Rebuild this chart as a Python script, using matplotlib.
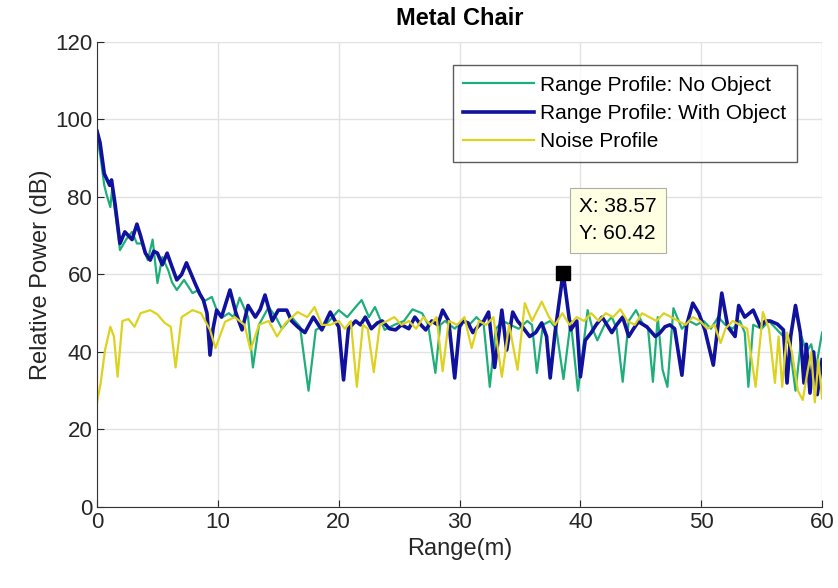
import matplotlib
matplotlib.use("Agg")
import matplotlib.pyplot as plt

plt.rcParams['font.family'] = ['Liberation Sans', 'DejaVu Sans']

# Range profile with the metal chair in place
with_x = [0, 0.25, 0.6, 0.9, 1.05, 1.2, 1.5, 1.9, 2.3, 2.6,
          2.9, 3.3, 3.6, 4.0, 4.4, 4.7, 5.0, 5.4, 5.8, 6.2,
          6.6, 7.0, 7.4, 7.8, 8.1, 8.5, 8.8, 9.1, 9.35, 9.6,
          9.9, 10.3, 10.6, 11.0, 11.5, 12.0, 12.5, 13.1, 13.5, 13.9,
          14.5, 15.0, 15.7, 16.1, 16.6, 17.2, 17.9, 18.6, 19.3, 19.7,
          20.0, 20.4, 20.8, 21.4, 21.8, 22.2, 22.7, 23.2, 23.6, 24.2,
          24.7, 25.2, 25.8, 26.3, 26.8, 27.2, 27.7, 28.2, 28.6, 29.1,
          29.6, 30.0, 30.3, 30.7, 31.1, 31.5, 32.0, 32.4, 32.9, 33.5,
          33.9, 34.4, 34.8, 35.2, 35.8, 36.3, 36.8, 37.2, 37.5, 37.9,
          38.57, 39.2, 39.7, 40.0, 40.4, 40.9, 41.3, 41.8, 42.2, 42.6,
          43.0, 43.5, 44.0, 44.4, 44.8, 45.5, 46.2, 46.6, 47.0, 47.4,
          47.8, 48.4, 48.8, 49.3, 49.8, 50.3, 51.0, 51.7, 52.2, 52.8,
          53.1, 53.6, 54.3, 54.9, 55.3, 55.7, 56.3, 56.8, 57.1, 57.4,
          57.8, 58.2, 58.5, 58.7, 59.0, 59.3, 59.6, 60.0]
with_db = [97, 94, 86, 84, 83, 84.4, 78, 68, 71, 70,
           69, 73, 70, 65.5, 63.7, 66, 65.5, 62.5, 65.5, 62,
           58.6, 60, 63, 60, 57.8, 55, 53.4, 50, 39.2, 46,
           50.8, 49, 52, 56, 50, 45.7, 52, 49, 51, 54.7,
           48, 50.8, 50.8, 48, 46.5, 45, 49, 45.7, 50.3, 48,
           46.5, 32.8, 46, 48, 47, 49, 46, 47.5, 48, 46,
           45.7, 47, 46, 49, 47, 45.7, 48, 47, 50.8, 48,
           33.3, 46.5, 48, 47.5, 45, 46.5, 48, 50.3, 36, 50.8,
           40.5, 50.3, 48, 46.5, 44, 45, 47.5, 44, 33.3, 45,
           60.42, 45.7, 48, 33.6, 43, 45, 47, 49, 47, 45,
           47, 49, 44, 46, 47.8, 46.5, 44, 45, 46.5, 47,
           46, 34, 47, 52.6, 50, 45.7, 36.6, 55.2, 46.5, 44,
           52, 49, 50.8, 46.5, 48, 48, 47.2, 45.7, 32, 44,
           52, 45, 32, 42, 29.4, 40, 29, 38]

# Range profile of the empty scene
none_x = [0, 0.3, 0.6, 0.8, 1.1, 1.25, 1.5, 1.9, 2.4, 2.9,
          3.3, 3.7, 4.2, 4.6, 5.0, 5.4, 5.9, 6.2, 6.6, 7.2,
          7.9, 8.4, 8.8, 9.5, 10.0, 10.4, 10.9, 11.3, 11.8, 12.5,
          12.9, 13.4, 14.2, 14.8, 15.3, 16.1, 16.8, 17.5, 18.1, 18.9,
          19.5, 20.0, 20.7, 21.4, 21.9, 22.5, 23.0, 23.8, 24.6, 25.4,
          26.1, 26.9, 27.4, 28.0, 28.4, 28.8, 29.6, 30.2, 30.8, 31.4,
          32.0, 32.5, 33.0, 33.6, 34.2, 34.9, 35.6, 36.0, 36.4, 36.9,
          37.5, 38.0, 38.6, 39.2, 39.8, 40.6, 41.0, 41.4, 42.0, 42.6,
          43.0, 43.5, 44.0, 44.6, 45.2, 45.6, 46.0, 46.4, 46.8, 47.2,
          47.7, 48.4, 49.0, 49.6, 50.2, 50.8, 51.4, 52.0, 52.6, 53.2,
          53.6, 53.9, 54.3, 55.0, 55.6, 56.2, 56.8, 57.3, 57.8, 58.3,
          58.7, 59.1, 59.5, 60.0]
none_db = [96, 90, 83, 80.5, 77.4, 82, 76, 66.3, 69, 71,
           68, 68, 63.7, 69, 57.8, 64.5, 61, 58, 56, 58.6,
           55.2, 56, 53, 54.2, 50, 49, 50, 49, 54, 49,
           36, 47, 51.6, 49, 46, 49, 46.5, 30, 45.7, 47,
           49, 50.8, 49, 51.6, 53.4, 49, 51.6, 45.7, 47, 48,
           51, 50, 47, 34.6, 47, 48, 46, 48, 47, 49,
           47, 31, 46, 48, 47, 46, 48, 47, 34.6, 47,
           48, 46, 33, 48, 30, 50.8, 46, 43, 47, 49,
           46, 32.3, 48, 50.8, 47, 46, 32.3, 49, 35.4, 31,
           51.3, 46, 48, 47, 48, 46, 49, 47, 46, 48,
           45, 31, 47, 46, 48, 46, 44, 42, 30, 44,
           40, 42, 36, 45]

# Noise floor
noise_x = [0, 0.3, 0.66, 1.1, 1.4, 1.7, 2.1, 2.6, 3.1, 3.6,
           4.4, 5.0, 5.6, 6.1, 6.5, 7.0, 7.9, 8.6, 9.35, 9.8,
           10.6, 11.4, 12.2, 12.7, 13.4, 14.2, 14.9, 15.6, 16.6, 17.4,
           18.0, 18.6, 19.3, 20.0, 20.5, 21.0, 21.5, 22.0, 22.4, 22.9,
           23.4, 24.0, 24.6, 25.2, 25.8, 26.4, 27.0, 27.6, 28.1, 28.6,
           29.1, 29.8, 30.4, 31.0, 31.6, 32.2, 32.8, 33.5, 34.1, 34.8,
           35.4, 36.0, 36.8, 37.4, 37.9, 38.5, 39.1, 39.7, 40.3, 40.9,
           41.5, 42.1, 42.7, 43.3, 43.9, 44.5, 45.1, 45.7, 46.3, 46.9,
           47.5, 48.1, 48.7, 49.3, 49.9, 50.5, 51.1, 51.6, 52.0, 52.6,
           53.2, 53.8, 54.5, 55.1, 55.6, 56.1, 56.4, 56.7, 57.1, 57.5,
           58.0, 58.4, 58.8, 59.1, 59.4, 59.7, 60.0]
noise_db = [27, 32, 40.5, 46.5, 44, 33.6, 48, 48.5, 46.5, 50,
            50.8, 49.7, 47.5, 46.5, 36, 49, 50.8, 50, 45.7, 41,
            47.8, 49, 47, 40.5, 47, 48, 44, 47.5, 50.3, 49,
            51.6, 47, 47, 48, 46, 48, 31, 47, 46, 34.8,
            47, 48, 49, 47, 48, 46, 49, 47, 49, 35,
            48, 47, 49, 41, 48, 47, 49, 33.6, 47, 35.4,
            52.6, 48, 53, 49, 47, 50, 47, 49, 48, 50,
            48, 50, 49, 51, 48, 47, 50, 49, 48, 50,
            49, 48, 47, 49, 48, 46, 47, 42.3, 46, 48,
            47, 46, 31, 50.3, 46, 32, 44, 31, 45, 40,
            30, 27.6, 35, 40, 27, 38, 28]

tip_x, tip_y = 38.57, 60.42

fig = plt.figure(figsize=(8.38, 5.88), dpi=100)
ax = fig.add_axes([0.1158, 0.1378, 0.8652, 0.7908])

ax.plot(none_x, none_db, color='#1fae7a', lw=1.6, label='Range Profile: No Object')
ax.plot(with_x, with_db, color='#10129e', lw=2.6, label='Range Profile: With Object')
ax.plot(noise_x, noise_db, color='#ddd21e', lw=1.6, label='Noise Profile')

# data tip
ax.plot([tip_x], [tip_y], 's', color='black', ms=10, zorder=5)
ax.text(39.9, 74, 'X: %.2f\nY: %.2f' % (tip_x, tip_y), fontsize=15, va='center', ha='left',
        linespacing=1.55,
        bbox=dict(boxstyle='square,pad=0.45', facecolor='#ffffe4', edgecolor='#b0b0a0', lw=0.8),
        zorder=6)

ax.set_xlim(0, 60)
ax.set_ylim(0, 120)
ax.set_xticks(range(0, 61, 10))
ax.set_yticks(range(0, 121, 20))
ax.grid(True, color='#e2e2e2', lw=1)
ax.set_axisbelow(True)
for s in ['top', 'right']:
    ax.spines[s].set_visible(False)
for s in ['left', 'bottom']:
    ax.spines[s].set_color('#333333')
ax.tick_params(direction='in', labelsize=16, colors='#262626', length=5)

ax.set_title('Metal Chair', fontsize=17, fontweight='bold', pad=12)
ax.set_xlabel('Range(m)', fontsize=17, color='#262626', labelpad=4)
ax.set_ylabel('Relative Power (dB)', fontsize=17, color='#262626', labelpad=2)

leg = ax.legend(loc='upper right', bbox_to_anchor=(0.965, 0.95), fontsize=15,
                frameon=True, fancybox=False, handlelength=3.4, handletextpad=0.3,
                borderaxespad=0, borderpad=0.5, labelspacing=0.45)
leg.get_frame().set_edgecolor('#333333')
leg.get_frame().set_linewidth(1)

fig.savefig('out.png', dpi=100)
